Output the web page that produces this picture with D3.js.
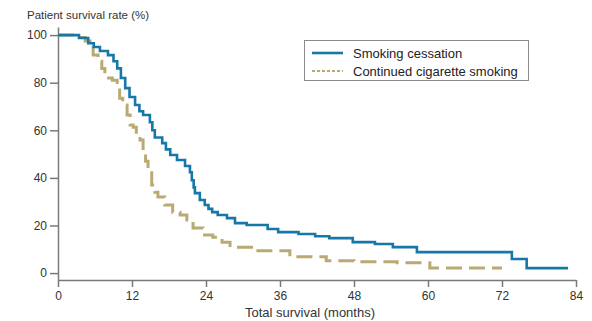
<!DOCTYPE html>
<html>
<head>
<meta charset="utf-8">
<script src="https://cdn.jsdelivr.net/npm/d3@7"></script>
<style>
  body { margin: 0; background: #fff; }
  svg { display: block; font-family: "Liberation Sans", Arial, sans-serif; }
  .axis path, .axis line { stroke: #7a7a7a; stroke-width: 1.5; }
  .axis text { fill: #333; font-size: 12px; }
</style>
</head>
<body>
<svg id="chart" width="592" height="321"></svg>
<script>
// Kaplan-Meier steps: [month, survival %]
const cessation = [
  [0, 100], [3.4, 98.8], [4.9, 96.6], [5.8, 95], [6.8, 93.3], [8.1, 91.6],
  [9.0, 89], [9.6, 86], [10.2, 82], [10.9, 77.7], [11.6, 74], [12.5, 70.6],
  [13.2, 68], [13.8, 66.4], [14.9, 63.4], [15.3, 60], [15.7, 57], [16.9, 54.6],
  [17.5, 52], [18.2, 49.6], [19.3, 47.5], [20.6, 45], [21.4, 42.4], [21.7, 39],
  [22.0, 36], [22.2, 33.6], [23, 30.7], [23.8, 28.6], [24.4, 27], [25, 25.6],
  [25.9, 24.4], [27.4, 23.1], [28.7, 21], [30.6, 20.2], [34, 18.5], [35.7, 17.2],
  [39, 16.4], [41.7, 15.5], [44, 14.7], [47.8, 13], [51.4, 12.2], [54.3, 10.9],
  [58.2, 8.8], [73.6, 5.9], [76, 2.1], [82.7, 2.1],
];

const continued = [
  [0, 100], [2.8, 99], [4.4, 97.5], [5.2, 95.4], [5.7, 91.6], [6.5, 89],
  [7.1, 86], [7.6, 82], [8.8, 81], [9.6, 78.6], [10, 73.5], [10.5, 70.6],
  [11.2, 66.4], [11.7, 62.2], [12.2, 61.3], [12.7, 58.5], [13.3, 55.9],
  [13.8, 50.4], [14.2, 47], [14.6, 44.1], [15.2, 37], [15.7, 34], [16.2, 32],
  [17.3, 28.6], [18.6, 25.6], [19.8, 24.4], [20.9, 22.3], [21.9, 18.9],
  [23.5, 16], [25.1, 15.1], [26.6, 13], [27.9, 10.9], [32, 9.4], [37.6, 6.9],
  [43.5, 5.2], [48, 4.8], [55, 4.4], [60.3, 2.1], [72, 2.1],
];

const xTicks = [0, 12, 24, 36, 48, 60, 72, 84];
const yTicks = [0, 20, 40, 60, 80, 100];

const seriesNames = ["Smoking cessation", "Continued cigarette smoking"];
const seriesColors = ["#1777a6", "#b8aa72"];

const svg = d3.select("#chart");

const x = d3.scaleLinear().domain([0, 84]).range([58, 576]);
// axis line runs a little past 0 and 100
const y = d3.scaleLinear().domain([-2.9, 103.4]).range([280, 27]);

svg
  .append("g")
  .attr("class", "axis x-axis")
  .attr("transform", "translate(0, 280)")
  .call(d3.axisBottom(x).tickValues(xTicks).tickSize(7).tickSizeOuter(0).tickPadding(4));

svg
  .append("g")
  .attr("class", "axis y-axis")
  .attr("transform", "translate(58, 0)")
  .call(d3.axisLeft(y).tickValues(yTicks).tickSize(8).tickSizeOuter(0).tickPadding(3));

svg
  .append("text")
  .attr("x", 27)
  .attr("y", 19)
  .attr("font-size", 11.5)
  .attr("fill", "#333")
  .text("Patient survival rate (%)");

svg
  .append("text")
  .attr("x", 310)
  .attr("y", 317)
  .attr("text-anchor", "middle")
  .attr("font-size", 13)
  .attr("fill", "#333")
  .text("Total survival (months)");

const line = d3
  .line()
  .x(([m]) => x(m))
  .y(([, v]) => y(v))
  .curve(d3.curveStepAfter);

svg
  .append("path")
  .attr("class", "km continued")
  .attr("d", line(continued))
  .attr("fill", "none")
  .attr("stroke", seriesColors[1])
  .attr("stroke-width", 3)
  .attr("stroke-dasharray", "16,7");

svg
  .append("path")
  .attr("class", "km cessation")
  .attr("d", line(cessation))
  .attr("fill", "none")
  .attr("stroke", seriesColors[0])
  .attr("stroke-width", 2.6);

// legend
const legend = svg.append("g").attr("transform", "translate(304, 40)");

legend
  .append("rect")
  .attr("x", 0.5)
  .attr("y", 0.5)
  .attr("width", 224)
  .attr("height", 40)
  .attr("fill", "#fff")
  .attr("stroke", "#8a8a8a")
  .attr("stroke-width", 1);

seriesNames.forEach((name, i) => {
  const row = legend.append("g").attr("transform", `translate(0, ${13 + i * 18})`);
  row
    .append("path")
    .attr("d", "M 8 0 l 31 0")
    .attr("stroke", seriesColors[i])
    .attr("stroke-width", i ? 2 : 2.6)
    .attr("stroke-dasharray", i ? "3,2" : null);
  row
    .append("text")
    .attr("x", 49)
    .attr("y", 4.5)
    .attr("font-size", 13)
    .attr("fill", "#222")
    .text(name);
});
</script>
</body>
</html>
